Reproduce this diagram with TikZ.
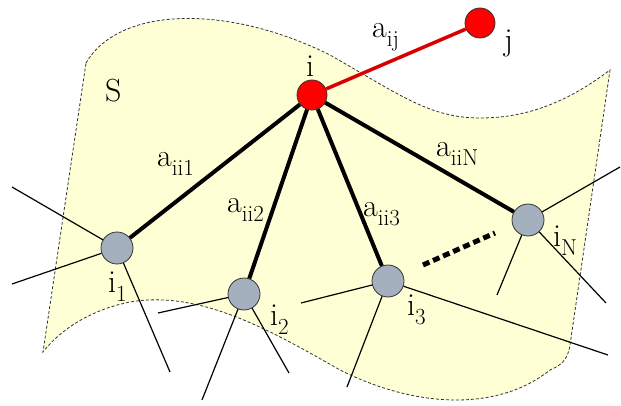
\documentclass[tikz,border=0pt]{standalone}
\usepackage{fontspec}
\usetikzlibrary{positioning}
\definecolor{sheetyellow}{RGB}{255,255,214}
\definecolor{peergray}{RGB}{164,176,190}
\definecolor{linkred}{RGB}{215,0,0}
\newcommand{\withsub}[2]{#1\raisebox{-9pt}{\fontsize{23}{23}\selectfont #2}}

\begin{document}
\begin{tikzpicture}[
  x=1pt, y=-1pt,
  sheet/.style={draw=black!80, fill=sheetyellow, dashed, dash pattern=on 3pt off 2pt, line width=0.8pt},
  hub/.style={circle, draw=black!80, fill=red, minimum size=30pt, inner sep=0pt, line width=0.8pt},
  peer/.style={circle, draw=black!80, fill=peergray, minimum size=32pt, inner sep=0pt, line width=0.8pt},
  link/.style={line width=4pt, black},
  redlink/.style={line width=3.5pt, linkred},
  stub/.style={line width=1.2pt, black},
  more/.style={line width=5pt, dash pattern=on 7pt off 4pt},
  lbl/.style={font=\fontsize{32}{32}\selectfont, inner sep=0pt, anchor=base west}
]
  \useasboundingbox (0,0) rectangle (621,406);

  % ---- the surface S ----
  \draw[sheet] (86,63) .. controls (120,5) and (230,5) .. (330,55)
               .. controls (400,95) and (430,118) .. (480,118)
               .. controls (530,118) and (570,100) .. (610,70)
               -- (570,345) .. controls (568,360) and (560,366) .. (550,370)
               .. controls (500,410) and (420,410) .. (340,370)
               .. controls (270,330) and (200,290) .. (130,302)
               .. controls (90,310) and (60,330) .. (43,352) -- cycle;

  % ---- nodes ----
  \node[hub]  (i)  at (312,95)  {};
  \node[hub]  (j)  at (480,23)  {};
  \node[peer] (i1) at (117,248) {};
  \node[peer] (i2) at (244,294) {};
  \node[peer] (i3) at (388,281) {};
  \node[peer] (iN) at (528,220) {};

  % ---- free ends of the outside links ----
  \coordinate (i1a) at (12,187);
  \coordinate (i1b) at (12,284);
  \coordinate (i1c) at (170,372);
  \coordinate (i2a) at (158,313);
  \coordinate (i2b) at (202,400);
  \coordinate (i2c) at (289,373);
  \coordinate (i3a) at (301,303);
  \coordinate (i3b) at (347,387);
  \coordinate (i3c) at (608,355);
  \coordinate (iNa) at (620,167);
  \coordinate (iNb) at (497,295);
  \coordinate (iNc) at (606,303);
  \coordinate (dotsA) at (423,265);
  \coordinate (dotsB) at (495,233);

  % ---- thin links leaving the neighbours ----
  \foreach \n in {i1,i2,i3,iN}
    \foreach \e in {a,b,c}
      \draw[stub] (\n) -- (\n\e);

  % ---- links from i ----
  \draw[redlink] (i) -- (j);
  \draw[link] (i) -- (i1);
  \draw[link] (i) -- (i2);
  \draw[link] (i) -- (i3);
  \draw[link] (i) -- (iN);
  \draw[more] (dotsA) -- (dotsB);

  % ---- labels ----
  \node[lbl] (lS)   at (105,102) {S};
  \node[lbl] (li)   at (306,77)  {i};
  \node[lbl] (lj)   at (504,51)  {j};
  \node[lbl] (lij)  at (372,38)  {\withsub{a}{ij}};
  \node[lbl] (lii1) at (157,167) {\withsub{a}{ii1}};
  \node[lbl] (lii2) at (227,213) {\withsub{a}{ii2}};
  \node[lbl] (lii3) at (363,217) {\withsub{a}{ii3}};
  \node[lbl] (liiN) at (436,157) {\withsub{a}{iiN}};
  \node[lbl] (li1)  at (108,292) {\withsub{i}{1}};
  \node[lbl] (li2)  at (270,325) {\withsub{i}{2}};
  \node[lbl] (li3)  at (407,315) {\withsub{i}{3}};
  \node[lbl] (liN)  at (553,247) {\withsub{i}{N}};
\end{tikzpicture}
\end{document}
